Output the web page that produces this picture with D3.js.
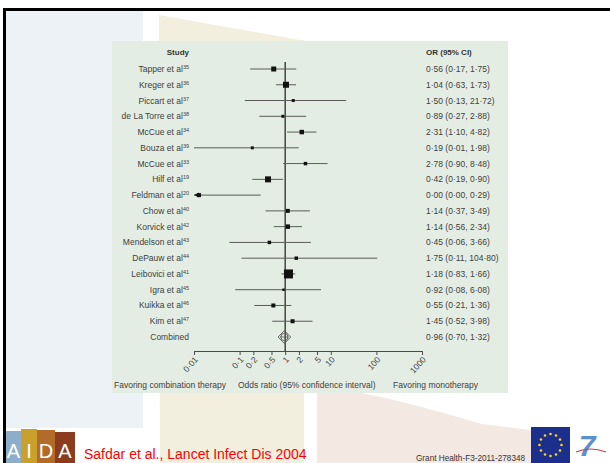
<!DOCTYPE html>
<html lang="en">
<head>
<meta charset="utf-8">
<title>Forest plot</title>
<script src="https://cdn.jsdelivr.net/npm/d3@7/dist/d3.min.js"></script>
<style>
  body { margin: 0; background: #fff; }
  svg { display: block; font-family: "Liberation Sans", Arial, sans-serif; }
</style>
</head>
<body>
<svg width="610" height="463" id="mainsvg"></svg>
<script>
// ---- data ----
const studies = ["Tapper et al", "Kreger et al", "Piccart et al", "de La Torre et al", "McCue et al",
  "Bouza et al", "McCue et al", "Hilf et al", "Feldman et al", "Chow et al", "Korvick et al",
  "Mendelson et al", "DePauw et al", "Leibovici et al", "Igra et al", "Kuikka et al", "Kim et al"];
const refs = ["35", "36", "37", "38", "34", "39", "33", "19", "20", "40", "42", "43", "44", "41", "45", "46", "47"];
const oddsRatio = [0.56, 1.04, 1.50, 0.89, 2.31, 0.19, 2.78, 0.42, 0.00, 1.14, 1.14, 0.45, 1.75, 1.18, 0.92, 0.55, 1.45];
const ciLow = [0.17, 0.63, 0.13, 0.27, 1.10, 0.01, 0.90, 0.19, 0.00, 0.37, 0.56, 0.06, 0.11, 0.83, 0.08, 0.21, 0.52];
const ciHigh = [1.75, 1.73, 21.72, 2.88, 4.82, 1.98, 8.48, 0.90, 0.29, 3.49, 2.34, 3.66, 104.80, 1.66, 6.08, 1.36, 3.98];
const weights = [25, 36, 9, 9, 20, 9, 12, 36, 16, 16, 20, 12, 12, 81, 6, 16, 16];
const combined = { label: "Combined", or: 0.96, lo: 0.70, hi: 1.32 };
const tickValues = [0.01, 0.1, 0.2, 0.5, 1, 2, 5, 10, 100, 1000];
const tickLabels = ["0·01", "0·1", "0·2", "0·5", "1", "2", "5", "10", "100", "1000"];

const svg = d3.select('#mainsvg');
const textColor = '#404040';
const fmt = v => d3.format('.2f')(v).replace('.', '·');

// ---- slide background ----
svg.append('rect').attr('width', 610).attr('height', 463).attr('fill', '#fff');
svg.append('rect').attr('x', 6).attr('y', 11).attr('width', 137).attr('height', 417).attr('fill', '#edf2f6');
svg.append('path').attr('d', 'M159,15 L300,40 L304,40 L304,463 L160,463 Z').attr('fill', '#f3efdf');
svg.append('path').attr('d', 'M317,393 L362,393 C420,405 460,418 482,424 L531,430 L531,463 L317,463 Z')
  .attr('fill', '#f4e8e2');
svg.append('rect').attr('x', 3).attr('y', 8).attr('width', 607).attr('height', 3).attr('fill', '#000');
svg.append('rect').attr('x', 3).attr('y', 8).attr('width', 3).attr('height', 455).attr('fill', '#000');

// ---- chart panel ----
svg.append('rect').attr('x', 112).attr('y', 41).attr('width', 396).attr('height', 352).attr('fill', '#e4ede3');

const xScale = d3.scaleLog().domain([0.01, 1000]).range([194, 422]);
const yScale = d3.scalePoint().domain(d3.range(studies.length + 1)).range([69, 337]);
const sScale = d3.scaleSqrt().domain([0, d3.max(weights)]).range([0, 9]);
const axisY = 351;

const g = svg.append('g').attr('id', 'maingroup');

// headers
g.append('text').attr('x', 189).attr('y', 52).attr('dy', '0.35em').attr('text-anchor', 'end')
  .attr('font-size', 8).attr('font-weight', 'bold').attr('fill', '#333').text('Study');
g.append('text').attr('x', 426).attr('y', 52).attr('dy', '0.35em')
  .attr('font-size', 8).attr('font-weight', 'bold').attr('fill', '#333').text('OR (95% CI)');

// line of no effect
g.append('line')
  .attr('x1', xScale(1)).attr('x2', xScale(1))
  .attr('y1', 62).attr('y2', axisY)
  .attr('stroke', '#444').attr('stroke-width', 1.5);

const rows = studies.map((s, i) => ({
  study: s, ref: refs[i], or: oddsRatio[i], lo: ciLow[i], hi: ciHigh[i], w: weights[i], i: i
}));
const clampX = v => xScale(Math.max(v, 0.01));

// study labels
const lab = g.selectAll('.study').data(rows).enter().append('text')
  .attr('class', 'study')
  .attr('x', 189).attr('y', d => yScale(d.i)).attr('dy', '0.35em')
  .attr('text-anchor', 'end').attr('font-size', 8.5).attr('fill', textColor);
lab.append('tspan').text(d => d.study);
lab.append('tspan').attr('font-size', 5.5).attr('dy', -3).text(d => d.ref);

g.append('text').attr('x', 189).attr('y', yScale(studies.length)).attr('dy', '0.35em')
  .attr('text-anchor', 'end').attr('font-size', 8.5).attr('fill', textColor).text(combined.label);

// confidence intervals
g.selectAll('.ci').data(rows).enter().append('line')
  .attr('class', 'ci')
  .attr('x1', d => clampX(d.lo)).attr('x2', d => clampX(d.hi))
  .attr('y1', d => yScale(d.i)).attr('y2', d => yScale(d.i))
  .attr('stroke', '#5a5a5a').attr('stroke-width', 1);

// arrows for intervals running off the scale
g.selectAll('.arrow').data(rows.filter(d => d.lo < 0.01)).enter().append('path')
  .attr('class', 'arrow')
  .attr('d', d => {
    const x0 = xScale(0.01), y0 = yScale(d.i);
    return `M${x0},${y0} L${x0 + 5},${y0 - 2.5} L${x0 + 5},${y0 + 2.5} Z`;
  })
  .attr('fill', '#111');

// point estimates
g.selectAll('.pt').data(rows).enter().append('rect')
  .attr('class', 'pt')
  .attr('x', d => (d.or < 0.01 ? xScale(0.01) + 5 : xScale(d.or)) - sScale(d.w) / 2)
  .attr('y', d => yScale(d.i) - sScale(d.w) / 2)
  .attr('width', d => sScale(d.w)).attr('height', d => sScale(d.w))
  .attr('fill', '#111');

// combined estimate
const cy = yScale(studies.length);
g.append('path')
  .attr('d', `M${xScale(combined.lo)},${cy} L${xScale(combined.or)},${cy - 6.5} L${xScale(combined.hi)},${cy} L${xScale(combined.or)},${cy + 6.5} Z`)
  .attr('fill', 'none').attr('stroke', '#555').attr('stroke-width', 0.9);
g.append('circle').attr('cx', xScale(combined.or)).attr('cy', cy).attr('r', 3.6)
  .attr('fill', 'none').attr('stroke', '#555').attr('stroke-width', 0.9);
g.append('line').attr('x1', xScale(combined.lo) + 2).attr('x2', xScale(combined.hi) - 2)
  .attr('y1', cy).attr('y2', cy).attr('stroke', '#555').attr('stroke-width', 0.8);

// OR text column
const ciText = rows.map(d => `${fmt(d.or)} (${fmt(d.lo)}, ${fmt(d.hi)})`);
ciText.push(`${fmt(combined.or)} (${fmt(combined.lo)}, ${fmt(combined.hi)})`);
g.selectAll('.ortext').data(ciText).enter().append('text')
  .attr('class', 'ortext')
  .attr('x', 426).attr('y', (d, i) => yScale(i)).attr('dy', '0.35em')
  .attr('font-size', 8.5).attr('fill', textColor).text(d => d);

// axis
const xAxis = d3.axisBottom(xScale)
  .tickValues(tickValues)
  .tickFormat((d, i) => tickLabels[i])
  .tickSize(4).tickSizeOuter(0);
const axisG = g.append('g').attr('transform', `translate(0, ${axisY})`).call(xAxis);
axisG.select('.domain').attr('stroke', '#4a4a4a');
axisG.selectAll('.tick line').attr('stroke', '#4a4a4a');
axisG.selectAll('.tick text')
  .attr('y', 0).attr('dy', 0)
  .attr('transform', 'translate(4,9) rotate(-48)')
  .style('text-anchor', 'end')
  .attr('font-size', 8.5).attr('fill', textColor)
  .attr('font-family', '"Liberation Sans", Arial, sans-serif');

// bottom captions
const captions = [
  { t: 'Favoring combination therapy', x: 114 },
  { t: 'Odds ratio (95% confidence interval)', x: 238 },
  { t: 'Favoring monotherapy', x: 393 }
];
g.selectAll('.cap').data(captions).enter().append('text')
  .attr('class', 'cap').attr('x', d => d.x).attr('y', 388)
  .attr('font-size', 8.5).attr('fill', textColor).text(d => d.t);

// ---- footer ----
const aida = [
  { l: 'A', x: 6, w: 15, top: 431, c: '#8daecb' },
  { l: 'I', x: 21, w: 16, top: 429, c: '#c9a02c' },
  { l: 'D', x: 37, w: 18, top: 430, c: '#b36b2a' },
  { l: 'A', x: 55, w: 20, top: 432, c: '#8c3b1f' }
];
svg.append('rect').attr('x', 6).attr('y', 428).attr('width', 69).attr('height', 35).attr('fill', '#fff');
svg.selectAll('.aida').data(aida).enter().append('rect')
  .attr('x', d => d.x).attr('y', d => d.top).attr('width', d => d.w).attr('height', d => 463 - d.top)
  .attr('fill', d => d.c);
svg.selectAll('.aidal').data(aida).enter().append('text')
  .attr('x', d => d.x + d.w / 2).attr('y', 458).attr('text-anchor', 'middle')
  .attr('font-size', 20).attr('fill', '#fff').text(d => d.l);

svg.append('text').attr('x', 84).attr('y', 459).attr('font-size', 14).attr('fill', '#ff0000')
  .text('Safdar et al., Lancet Infect Dis 2004');
svg.append('text').attr('x', 416).attr('y', 461).attr('font-size', 8.2).attr('fill', '#333')
  .text('Grant Health-F3-2011-278348');

// EU flag
svg.append('rect').attr('x', 531).attr('y', 427).attr('width', 39).attr('height', 36).attr('fill', '#1d2f8c');
svg.selectAll('.star').data(d3.range(12)).enter().append('circle')
  .attr('cx', i => 550.5 + 11 * Math.cos(i * Math.PI / 6))
  .attr('cy', i => 445 + 11 * Math.sin(i * Math.PI / 6))
  .attr('r', 1.3).attr('fill', '#f5d327');

// FP7 mark
svg.append('rect').attr('x', 572).attr('y', 427).attr('width', 38).attr('height', 36).attr('fill', '#fff');
svg.append('text').attr('x', 587).attr('y', 456).attr('text-anchor', 'middle')
  .attr('font-size', 30).attr('font-weight', 'bold').attr('font-style', 'italic')
  .attr('fill', '#5b8fd0').text('7');
svg.append('path').attr('d', 'M576,452 Q590,446 606,452').attr('fill', 'none')
  .attr('stroke', '#d04040').attr('stroke-width', 1.2);
</script>
</body>
</html>
